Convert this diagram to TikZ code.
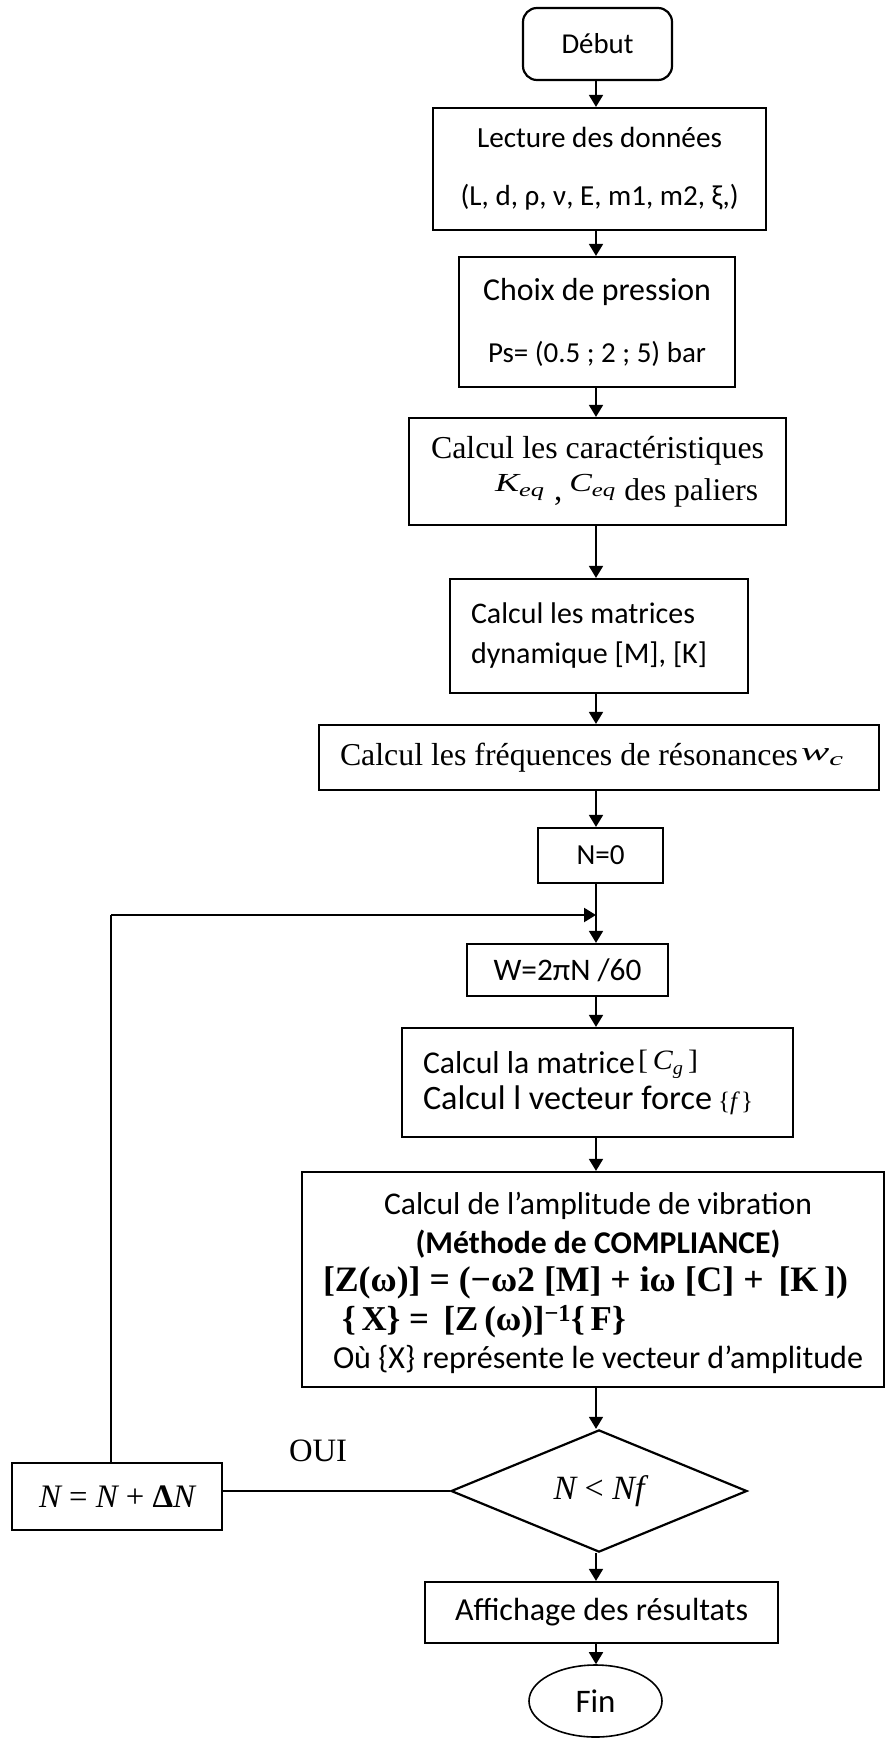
\documentclass[tikz,border=0pt]{standalone}
\usepackage{graphicx}
\usepackage{fontspec}
\setmainfont{Carlito}
\newfontfamily\tnr{Liberation Serif}
\usetikzlibrary{arrows.meta,shapes.geometric}
\newcommand\fsz[2]{\fontsize{#1}{#2}\selectfont}
\newcommand\mysub[1]{\raisebox{-5pt}{\fsz{19}{19}#1}}
\newcommand\hfit[2]{\resizebox{#1}{\height}{#2}}
\newcommand\fitw[2]{{\spaceskip=0pt\xspaceskip=0pt%
  \setbox0\hbox{\fontsize{10}{12}\selectfont #2}%
  \pgfmathsetmacro\fitfs{10*#1/\the\wd0}%
  \fontsize{\fitfs pt}{\fitfs pt}\selectfont #2}}
\begin{document}
\begin{tikzpicture}[x=1pt,y=1pt,
  box/.style={draw, line width=2.2pt, inner sep=0pt, font=\fsz{30}{36}},
  arr/.style={line width=1.8pt, -{Triangle[length=12pt,width=14pt]}},
  thinline/.style={line width=1.5pt}]
\useasboundingbox (0,0) rectangle (886,-1739);
\fill[white] (0,0) rectangle (886,-1739);
\coordinate (ax) at (596,0);

\node[box, rounded corners=14pt, minimum width=149pt, minimum height=72pt] (debut) at (597.5,-44) {\fitw{72}{Début}};

\node[box, minimum width=333pt, minimum height=122pt, align=center, font=\fsz{30}{58}] (lecture) at (599.5,-169) {\fitw{245}{Lecture des données}\\\fitw{278}{(L, d, ρ, ν, E, m1, m2, ξ,)}};

\node[box, minimum width=276pt, minimum height=130pt, align=center, font=\fsz{32}{62}] (choix) at (597,-322) {\fitw{228}{Choix de pression}\\\fitw{218}{Ps= (0.5 ; 2 ; 5) bar}};

\node[box, minimum width=377pt, minimum height=107pt, align=center, font=\tnr\fsz{33}{42}] (caract) at (597.5,-471.5) {\fitw{333}{\tnr Calcul les caractéristiques}\\\makebox[333pt][l]{\hspace*{64pt}\raisebox{9pt}{\hfit{49pt}{\fsz{26}{26}\itshape K\mysub{eq}}}\hspace{10pt},\hspace{7pt}\raisebox{9pt}{\hfit{46pt}{\fsz{26}{26}\itshape C\mysub{eq}}}\hspace{9pt}\fitw{134}{\tnr des paliers}}};

\node[box, minimum width=298pt, minimum height=114pt, text width=256pt, inner xsep=21pt, align=left, font=\fsz{30}{40}] (matr) at (599,-636) {\fitw{224}{Calcul les matrices}\\\fitw{236}{dynamique [M], [K]}};

\node[box, minimum width=560pt, minimum height=65pt, text width=518pt, inner xsep=21pt, align=left, font=\tnr\fsz{33}{40}] (freq) at (599,-757.5) {\fitw{458}{\tnr Calcul les fréquences de résonances}\hspace{3pt}\raisebox{5pt}{\hfit{42pt}{\fsz{26}{26}\itshape w\mysub{c}}}};

\node[box, minimum width=125pt, minimum height=55pt] (n0) at (600.5,-855.5) {\fitw{48}{N=0}};

\coordinate (jn) at (596,-915);
\coordinate (lc) at (111,-915);

\node[box, minimum width=201pt, minimum height=52pt] (wbox) at (567.5,-970) {\fitw{148}{W=2πN /60}};

\node[box, minimum width=391pt, minimum height=109pt, text width=349pt, inner xsep=21pt, align=left, font=\fsz{32}{36}] (cg) at (597.5,-1082.5) {\fitw{212}{Calcul la matrice}\hspace{3pt}\raisebox{4pt}{\hfit{60pt}{\tnr\fsz{28}{28}[\,{\itshape C\mysub{g}}\,]}}\\\fitw{289}{Calcul l vecteur force}\hspace{6pt}{\tnr\fsz{25}{25}\{{\itshape f\,}\}}};

\node[box, minimum width=582pt, minimum height=215pt] (amp) at (593,-1279.5) {};
\node[align=center, inner sep=0pt, font=\fsz{31}{38.5}] (amptxt) at (598,-1283) {\fitw{428}{Calcul de l’amplitude de vibration}\\\fitw{365}{\bfseries (Méthode de COMPLIANCE)}\\\makebox[550pt][l]{\fitw{525}{\tnr\bfseries [Z(ω)] = (−ω2 [M] + iω [C] + \,[K\,])}}\\\makebox[550pt][l]{\hspace*{19pt}\fitw{285}{\tnr\bfseries \{\,X\} = \,[Z\,(ω)]\textsuperscript{−1}\{\,F\}}}\\\fitw{530}{Où \{X\} représente le vecteur d’amplitude}};

\node[draw, diamond, line width=2.2pt, inner sep=0pt, minimum width=296pt, minimum height=114pt] (dia) at (599,-1491) {\fitw{91}{\tnr{\itshape N} < {\itshape Nf}}};

\node[box, minimum width=210pt, minimum height=67pt] (nbox) at (117,-1496.5) {\fitw{156}{\tnr{\itshape N} = {\itshape N} + {\bfseries Δ}{\itshape N}}};

\node[inner sep=0pt] (oui) at (318,-1451) {\fitw{58}{\tnr OUI}};

\node[box, minimum width=353pt, minimum height=61pt] (aff) at (601.5,-1612.5) {\fitw{293}{Affichage des résultats}};

\node[draw, ellipse, line width=1.6pt, inner sep=0pt, minimum width=133pt, minimum height=72pt] (fin) at (595.5,-1701) {\fitw{40}{Fin}};

\draw[arr] (debut.south -| ax) -- (lecture.north -| ax);
\draw[arr] (lecture.south -| ax) -- (choix.north -| ax);
\draw[arr] (choix.south -| ax) -- (caract.north -| ax);
\draw[arr] (caract.south -| ax) -- (matr.north -| ax);
\draw[arr] (matr.south -| ax) -- (freq.north -| ax);
\draw[arr] (freq.south -| ax) -- (n0.north -| ax);
\draw[arr] (n0.south -| ax) -- (wbox.north -| ax);
\draw[arr] (wbox.south -| ax) -- (cg.north -| ax);
\draw[arr] (cg.south -| ax) -- (amp.north -| ax);
\draw[arr] (amp.south -| ax) -- (dia.north -| ax);
\draw[arr] (dia.south -| ax) -- (aff.north -| ax);
\draw[arr] (aff.south -| ax) -- (fin.north -| ax);
\draw[thinline] (dia.west -| nbox.east) -- (dia.west);
\draw[thinline] (nbox.north -| lc) -- (lc);
\draw[line width=2.2pt, -{Triangle[length=12pt,width=14pt]}] (lc) -- (jn);
\end{tikzpicture}
\end{document}
